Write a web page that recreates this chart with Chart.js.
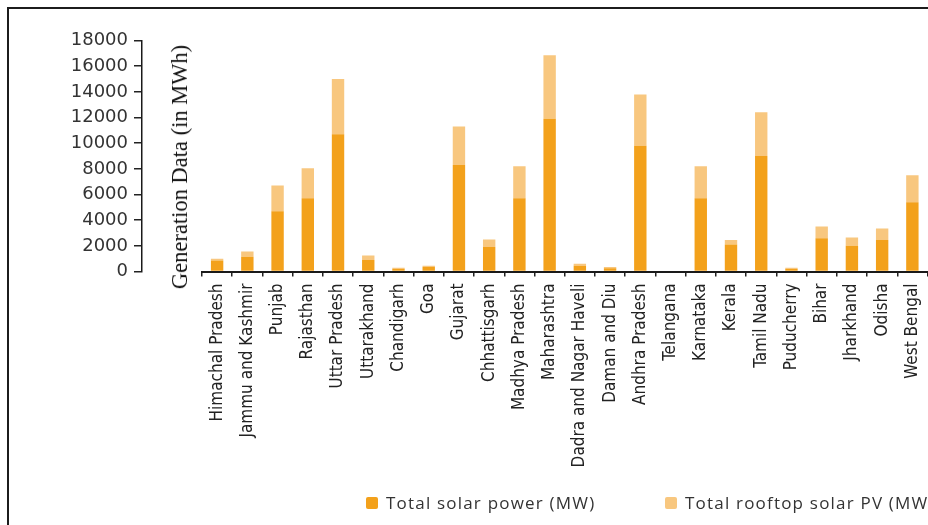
<!DOCTYPE html>
<html>
<head>
<meta charset="utf-8">
<title>Solar generation by state</title>
<script src="https://cdn.jsdelivr.net/npm/chart.js@4.4.1/dist/chart.umd.min.js"></script>
<style>
  html, body { margin: 0; padding: 0; background: #fff; overflow: hidden; }
  #wrap { position: relative; width: 928px; height: 525px; overflow: hidden; }
  #solar-chart { position: absolute; left: 0; top: 0; }
  #frame {
    position: absolute; left: 7px; top: 7px; right: -20px; bottom: -20px;
    border-top: 2px solid #1c1c1c; border-left: 2px solid #1c1c1c;
    pointer-events: none;
  }
  #y-title {
    position: absolute; left: 180px; top: 167px;
    transform: translate(-50%, -50%) rotate(-90deg);
    white-space: nowrap;
    font-family: 'Liberation Serif', serif; font-size: 22.5px; color: #111;
  }
  #legend {
    position: absolute; left: 366px; top: 491px;
    display: flex; white-space: nowrap;
    font-family: 'Open Sans', sans-serif; font-size: 17px; letter-spacing: 1.2px; color: #333;
  }
  #legend .item { width: 299px; display: flex; align-items: center; }
  #legend .swatch { width: 12px; height: 12px; border-radius: 2px; margin-right: 8px; flex: none; }
</style>
</head>
<body>
<div id="wrap">
  <canvas id="solar-chart" width="940" height="525"></canvas>
  <div id="y-title"></div>
  <div id="legend"></div>
  <div id="frame"></div>
</div>
<script>

const states = ['Himachal Pradesh', 'Jammu and Kashmir', 'Punjab', 'Rajasthan', 'Uttar Pradesh', 'Uttarakhand',
    'Chandigarh', 'Goa', 'Gujarat', 'Chhattisgarh', 'Madhya Pradesh', 'Maharashtra', 'Dadra and Nagar Haveli',
    'Daman and Diu', 'Andhra Pradesh', 'Telangana', 'Karnataka', 'Kerala', 'Tamil Nadu', 'Puducherry', 'Bihar',
    'Jharkhand', 'Odisha', 'West Bengal']

const solarPower = [850, 1150, 4700, 5700, 10700, 900, 200, 350, 8300, 1900, 5700, 11900, 450, 250, 9800, 0,
    5700, 2100, 9000, 200, 2600, 2000, 2450, 5400]

const rooftopPV = [150, 400, 2000, 2350, 4300, 350, 100, 100, 3000, 600, 2500, 4950, 150, 100, 4000, 0,
    2500, 350, 3400, 100, 900, 650, 900, 2100]

const yMax = 18000
const yStep = 2000
const yAxisTitle = 'Generation Data (in MWh)'

// legend as html, built from the datasets
function buildLegend(chart){
    const box = document.getElementById("legend");
    chart.data.datasets.forEach(ds => {
        const item = document.createElement("div");
        item.className = "item";
        const sw = document.createElement("span");
        sw.className = "swatch";
        sw.style.background = ds.backgroundColor;
        const txt = document.createElement("span");
        txt.textContent = ds.label;
        item.appendChild(sw);
        item.appendChild(txt);
        box.appendChild(item);
    });
}

function setupSolarChart(canvas){

    const chart = new Chart(canvas, {
        type: 'bar',
        data: {
            labels: states,
            datasets: [{
                label: 'Total solar power (MW)',
                data: solarPower,
                backgroundColor: '#F3A11B',
                borderWidth: 0
            }, {
                label: 'Total rooftop solar PV (MW)',
                data: rooftopPV,
                backgroundColor: '#F8C77F',
                borderWidth: 0
            }]
        },
        options: {
            responsive: false,
            animation: false,
            categoryPercentage: 1,
            barPercentage: 0.41,
            layout: {
                padding: { top: 40.5, left: 0, right: 0, bottom: 0 }
            },
            plugins: {
                tooltip: { enabled: false },
                legend: { display: false }
            },
            scales: {
                x: {
                    stacked: true,
                    grid: { drawOnChartArea: false, tickLength: 5, color: '#222', lineWidth: 1.5 },
                    border: { color: '#1a1a1a', width: 2 },
                    ticks: {
                        autoSkip: false,
                        minRotation: 90,
                        maxRotation: 90,
                        padding: 7,
                        color: '#222',
                        font: { family: "'DejaVu Sans Condensed', 'DejaVu Sans', sans-serif", size: 17 }
                    },
                    afterFit(scale) { scale.height = 253.5 }
                },
                y: {
                    stacked: true,
                    position: 'left',
                    weight: 2,
                    min: 0,
                    max: yMax,
                    grid: { drawOnChartArea: false, tickLength: 8, color: '#222', lineWidth: 1.5 },
                    border: { color: '#1a1a1a', width: 1.5 },
                    ticks: {
                        stepSize: yStep,
                        padding: 6,
                        color: '#333',
                        font: { family: "'DejaVu Sans', sans-serif", size: 18 },
                        callback: v => String(v)
                    },
                    afterFit(scale) { scale.width = 142 }
                },
                // empty gap between the value axis and the bars, the title sits in it
                yGap: {
                    position: 'left',
                    weight: 1,
                    grid: { display: false },
                    border: { display: false },
                    ticks: { display: false },
                    afterFit(scale) { scale.width = 60 }
                },
                // small empty box on the right so the last bar sits at the edge
                yRight: {
                    position: 'right',
                    grid: { display: false },
                    border: { display: false },
                    ticks: { display: false },
                    afterFit(scale) { scale.width = 11 }
                }
            }
        }
    });

    document.getElementById("y-title").textContent = yAxisTitle;
    buildLegend(chart);
}

document.addEventListener("DOMContentLoaded", function () {
    setupSolarChart(document.getElementById("solar-chart"));
});

</script>
</body>
</html>
